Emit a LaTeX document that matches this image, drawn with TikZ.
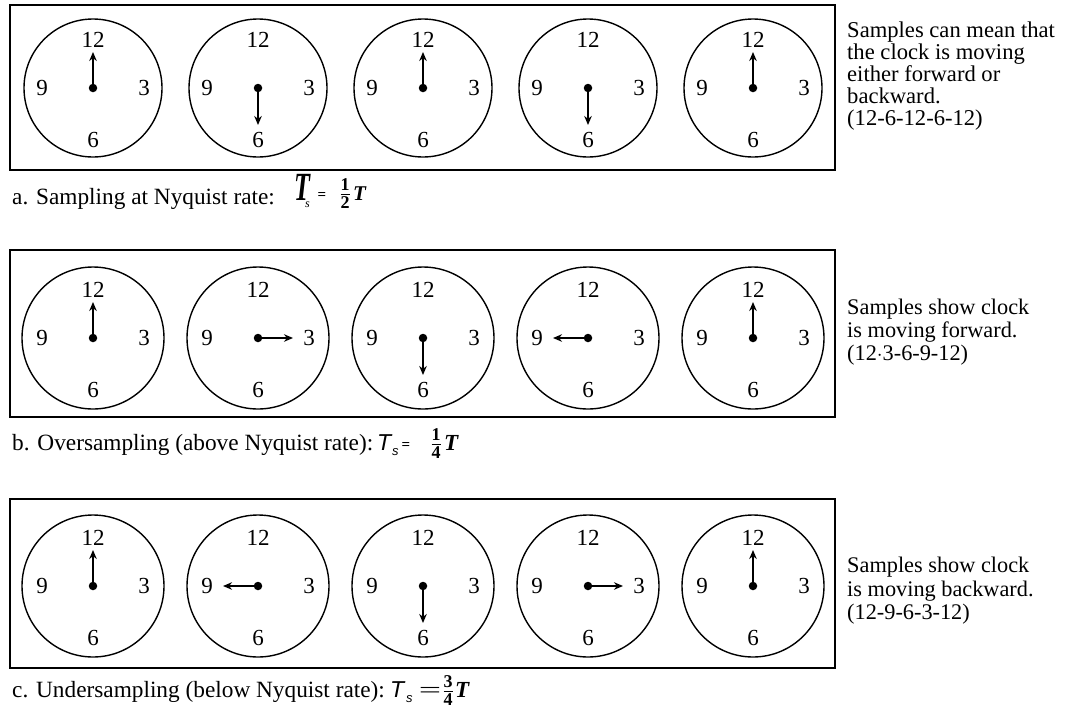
\documentclass[tikz,border=0pt]{standalone}
\usepackage{fontspec}
\usepackage{graphicx}
\setmainfont{Liberation Serif}
\setsansfont{Liberation Sans}
\usetikzlibrary{arrows.meta}
\tikzset{
  panel/.style={draw, line width=1.9pt, inner sep=0pt},
  face/.style={circle, draw, line width=1.4pt, minimum size=#1, inner sep=0pt},
  num/.style={font=\fontsize{23}{23}\selectfont, inner sep=0pt},
  hub/.style={circle, fill, minimum size=8.5pt, inner sep=0pt},
  hand/.style={line width=1.9pt, -{Stealth[length=9pt,width=7.5pt]}},
  note/.style={font=\fontsize{22.6}{21.8}\selectfont, align=left, anchor=north west, inner sep=0pt},
  captext/.style={font=\fontsize{23.3}{24}\selectfont, anchor=base west, inner sep=0pt},
  formpart/.style={inner sep=0pt, anchor=base west},
}
\newcommand\myclock[6]{%
  \node[face=#4] (#1) at (#2,#3) {};
  \node[num] (#1-12) at ([shift={(0,-48)}]#1.center) {12};
  \node[num] (#1-3) at ([shift={(51,0)}]#1.center) {3};
  \node[num] (#1-6) at ([shift={(0,52)}]#1.center) {6};
  \node[num] (#1-9) at ([shift={(-51,0)}]#1.center) {9};
  \node[hub] (#1-hub) at (#1.center) {};
  \coordinate (#1-tip) at ([shift={(#5,#6)}]#1.center);
  \draw[hand] (#1-hub.center) -- (#1-tip);
}
\newcommand\bfrac[2]{\fontsize{23}{23}\selectfont$\frac{\mbox{\fontsize{18}{18}\selectfont\bfseries #1}}{\mbox{\fontsize{18}{18}\selectfont\bfseries #2}}$}
\begin{document}
\begin{tikzpicture}[x=1pt,y=-1pt]
\useasboundingbox[fill=white] (0,0) rectangle (1066,713);
% panel a
\node[panel, minimum width=825pt, minimum height=165pt] (boxa) at (422.5,87.5) {};
\myclock{a1}{93}{88}{138pt}{0}{-36}
\myclock{a2}{258}{88}{138pt}{0}{37}
\myclock{a3}{423}{88}{138pt}{0}{-36}
\myclock{a4}{588}{88}{138pt}{0}{37}
\myclock{a5}{753}{88}{138pt}{0}{-36}
\node[note] (nota) at (847,22) {Samples can mean that\\the clock is moving\\either forward or\\backward.\\(12-6-12-6-12)};
\node[captext] (capa) at (12,204) {a. Sampling at Nyquist rate:};
\node[formpart] (fa-T) at (294,200) {\fontsize{40}{40}\selectfont\bfseries\itshape\scalebox{0.65}[1]{T}};
\node[formpart] (fa-s) at (305,207) {\fontsize{12}{12}\selectfont\itshape s};
\node[formpart, anchor=base] (fa-eq) at (322,199) {\fontsize{15}{15}\selectfont\bfseries =};
\node[formpart, anchor=base] (fa-fr) at (345,200) {\bfrac{1}{2}};
\node[formpart] (fa-T2) at (353,200) {\fontsize{21}{21}\selectfont\bfseries\itshape T};
% panel b
\node[panel, minimum width=825pt, minimum height=167pt] (boxb) at (422.5,333.5) {};
\myclock{b1}{93}{338}{142pt}{0}{-36}
\myclock{b2}{258}{338}{142pt}{35}{0}
\myclock{b3}{423}{338}{142pt}{0}{37}
\myclock{b4}{588}{338}{142pt}{-35}{0}
\myclock{b5}{753}{338}{142pt}{0}{-36}
\node[note, font=\fontsize{22.3}{23}\selectfont] (notb) at (847,299) {Samples show clock\\is moving forward.\\(12$\cdot$3-6-9-12)};
\node[captext] (capb) at (12,450) {b. Oversampling (above Nyquist rate):};
\node[formpart] (fb-T) at (377,450) {\fontsize{23}{23}\selectfont\sffamily\itshape T};
\node[formpart] (fb-s) at (392,455) {\fontsize{13}{13}\selectfont\sffamily\itshape s};
\node[formpart, anchor=base] (fb-eq) at (406,449) {\fontsize{15}{15}\selectfont\bfseries =};
\node[formpart, anchor=base] (fb-fr) at (436,450) {\bfrac{1}{4}};
\node[formpart] (fb-T2) at (444,450) {\fontsize{23}{23}\selectfont\bfseries\itshape T};
% panel c
\node[panel, minimum width=825pt, minimum height=169pt] (boxc) at (422.5,583.5) {};
\myclock{c1}{93}{586}{142pt}{0}{-36}
\myclock{c2}{258}{586}{142pt}{-35}{0}
\myclock{c3}{423}{586}{142pt}{0}{37}
\myclock{c4}{588}{586}{142pt}{35}{0}
\myclock{c5}{753}{586}{142pt}{0}{-36}
\node[note, font=\fontsize{22.3}{23.5}\selectfont] (notc) at (847,557) {Samples show clock\\is moving backward.\\(12-9-6-3-12)};
\node[captext] (capc) at (12,697) {c. Undersampling (below Nyquist rate):};
\node[formpart] (fc-T) at (390,697) {\fontsize{23}{23}\selectfont\sffamily\itshape T};
\node[formpart] (fc-s) at (406,702) {\fontsize{13}{13}\selectfont\sffamily\itshape s};
\node[formpart, anchor=base] (fc-eq) at (430,697) {\fontsize{22}{22}\selectfont\scalebox{1.8}[1]{=}};
\node[formpart, anchor=base] (fc-fr) at (448,697) {\bfrac{3}{4}};
\node[formpart] (fc-T2) at (455,697) {\fontsize{23}{23}\selectfont\bfseries\itshape T};
\end{tikzpicture}
\end{document}
